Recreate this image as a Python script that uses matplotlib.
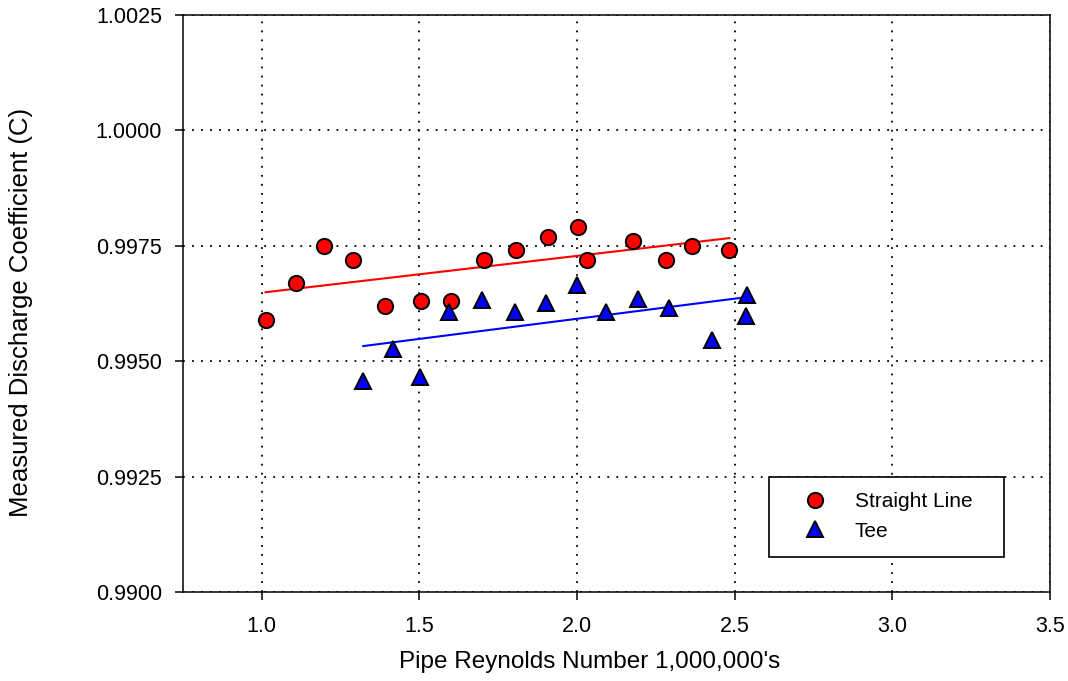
import matplotlib
matplotlib.use("Agg")
import matplotlib.pyplot as plt
import numpy as np
from matplotlib.patches import Rectangle
from matplotlib.ticker import FormatStrFormatter

plt.rcParams["font.family"] = ["Liberation Sans", "DejaVu Sans"]

# Straight-line run: Reynolds number (millions) vs measured C
straight_re = [1.012, 1.107, 1.198, 1.289, 1.390, 1.504, 1.601, 1.705,
               1.806, 1.907, 2.004, 2.032, 2.178, 2.281, 2.366, 2.483]
straight_c = [0.9959, 0.9967, 0.9975, 0.9972, 0.9962, 0.9963, 0.9963, 0.9972,
              0.9974, 0.9977, 0.9979, 0.9972, 0.9976, 0.9972, 0.9975, 0.9974]

# Tee run
tee_re = [1.322, 1.417, 1.503, 1.594, 1.700, 1.803, 1.901, 2.000,
          2.093, 2.193, 2.292, 2.429, 2.538, 2.536]
tee_c = [0.99456, 0.99527, 0.99466, 0.99606, 0.99633, 0.99606, 0.99626, 0.99665,
         0.99606, 0.99634, 0.99616, 0.99545, 0.99644, 0.99597]

x_ticks = [1.0, 1.5, 2.0, 2.5, 3.0, 3.5]
y_ticks = [0.9900, 0.9925, 0.9950, 0.9975, 1.0000, 1.0025]


def fit_line(x, y):
    """Least-squares line over the span of the data."""
    k, b = np.polyfit(x, y, 1)
    xs = np.array([min(x), max(x)])
    return xs, k * xs + b


fig = plt.figure(figsize=(10.68, 6.81), dpi=100)
ax = fig.add_axes([0.1713, 0.1307, 0.8118, 0.8473])

for x, y, color in [(straight_re, straight_c, "#ff0000"), (tee_re, tee_c, "#0000ff")]:
    xs, ys = fit_line(x, y)
    ax.plot(xs, ys, color=color, lw=1.5, zorder=3)

ax.plot(straight_re, straight_c, "o", ms=11, mfc="#ff0000", mec="black", mew=1.4,
        ls="none", zorder=4, label="Straight Line")
ax.plot(tee_re, tee_c, "^", ms=11, mfc="#0000ff", mec="black", mew=1.4,
        ls="none", zorder=4, label="Tee")

ax.set_xlim(0.75, 3.5)
ax.set_ylim(0.9900, 1.0025)
ax.set_xticks(x_ticks)
ax.set_yticks(y_ticks)
ax.xaxis.set_major_formatter(FormatStrFormatter("%.1f"))
ax.yaxis.set_major_formatter(FormatStrFormatter("%.4f"))
ax.tick_params(direction="out", length=6, width=1.1, labelsize=15.5, colors="black")
ax.tick_params(axis="x", pad=11)
ax.tick_params(axis="y", pad=9)
for s in ax.spines.values():
    s.set_linewidth(1.1)

ax.grid(True, color="black", lw=1.3, linestyle=(0, (1, 4)), zorder=1)
ax.set_axisbelow(True)

ax.set_xlabel("Pipe Reynolds Number 1,000,000's", fontsize=17.5)
ax.xaxis.set_label_coords(0.469, -0.102)
ax.xaxis.label.set_va("top")
ax.set_ylabel("Measured Discharge Coefficient (C)", fontsize=18.5)
ax.yaxis.set_label_coords(-0.173, 0.485)

# legend box drawn as a white panel so the grid stops at its edge
ax.add_patch(Rectangle((0.676, 0.0607), 0.271, 0.139, transform=ax.transAxes,
                       facecolor="white", edgecolor="black", lw=1.2, zorder=5))
leg = ax.legend(loc="upper left", bbox_to_anchor=(0.7047, 0.173), frameon=False,
                fontsize=15, handlelength=2.0, handletextpad=0.93,
                labelspacing=0.5, borderpad=0, borderaxespad=0)
leg.set_zorder(6)

fig.savefig("out.png", dpi=100)
